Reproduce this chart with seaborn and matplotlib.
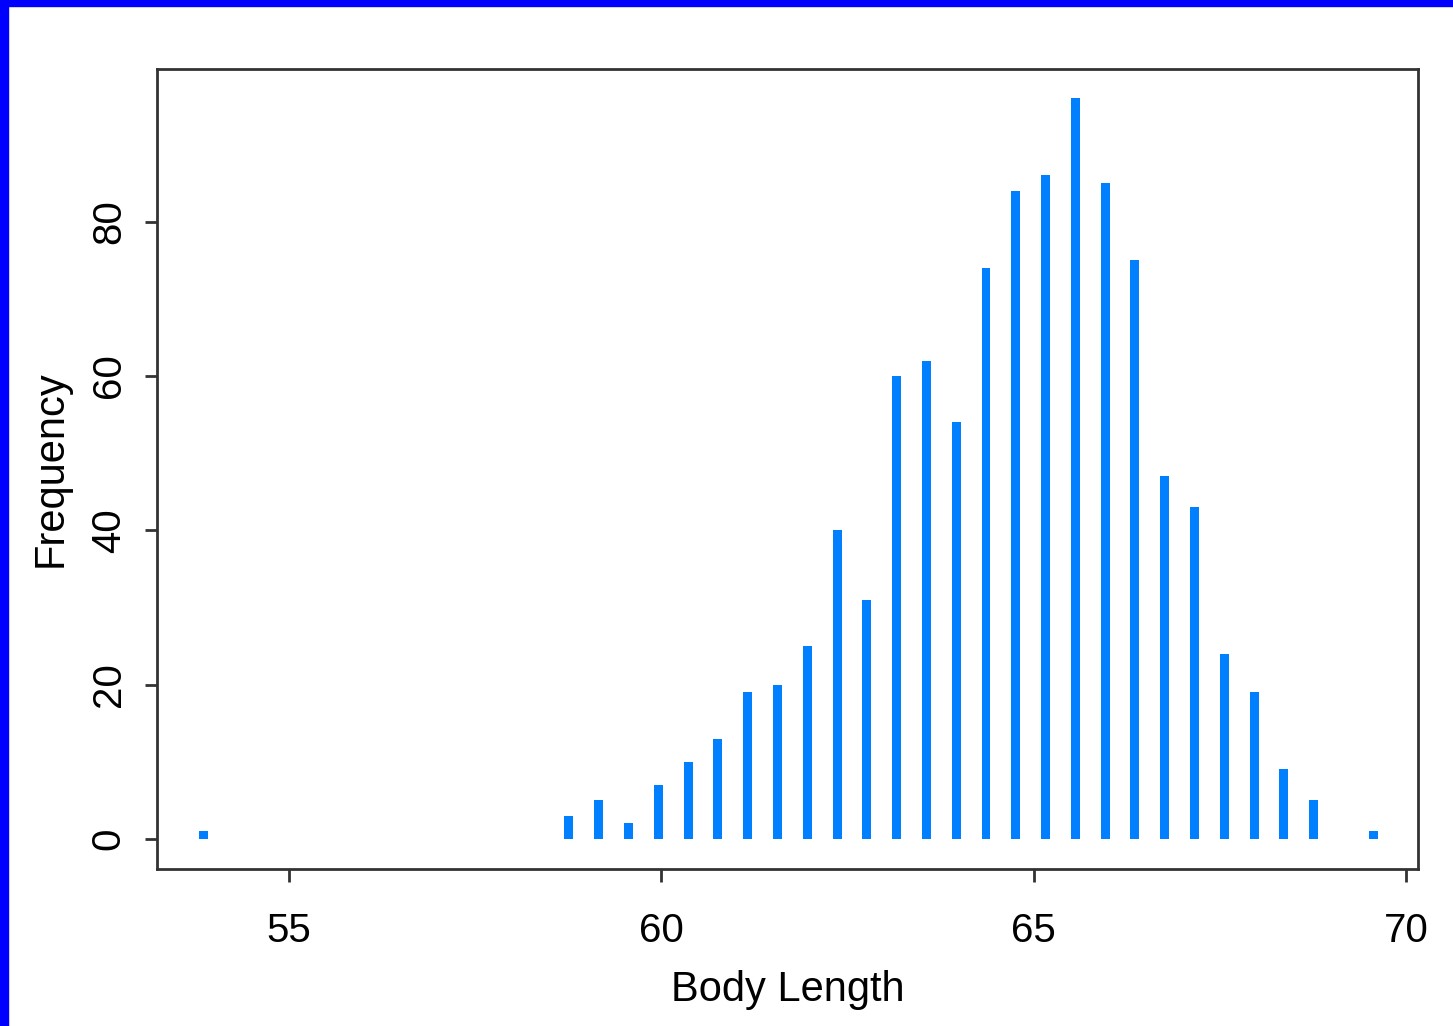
import matplotlib
matplotlib.use("Agg")
import matplotlib.pyplot as plt
import seaborn as sns
import pandas as pd

# frequency of body length values
body_length = [53.86, 58.76, 59.16, 59.56, 59.96, 60.36, 60.76, 61.16, 61.56, 61.96,
               62.36, 62.76, 63.16, 63.56, 63.96, 64.36, 64.76, 65.16, 65.56, 65.96,
               66.36, 66.76, 67.16, 67.56, 67.96, 68.36, 68.76, 69.56]
frequency = [1, 3, 5, 2, 7, 10, 13, 19, 20, 25,
             40, 31, 60, 62, 54, 74, 84, 86, 96, 85,
             75, 47, 43, 24, 19, 9, 5, 1]
x_ticks = [55, 60, 65, 70]
y_ticks = [0, 20, 40, 60, 80]

df = pd.DataFrame({"Body Length": body_length, "Frequency": frequency})

sns.set_style("ticks")
plt.rcParams['font.family'] = ['Liberation Sans', 'DejaVu Sans']

fig = plt.figure(figsize=(14.53, 10.26), dpi=100)
fig.patch.set_facecolor("white")
ax = fig.add_axes([157/1453, 1 - 869/1026, (1418-157)/1453, (869-69)/1026])

sns.barplot(data=df, x="Body Length", y="Frequency", native_scale=True,
            width=0.30, color="#0080FF", saturation=1, errorbar=None,
            edgecolor="none", ax=ax)

ax.set_xlim(53.23, 70.16)
ax.set_ylim(-3.9, 99.8)
ax.set_xticks(x_ticks)
ax.set_xticklabels([str(t) for t in x_ticks])
ax.set_yticks(y_ticks)
ax.set_yticklabels([str(t) for t in y_ticks], rotation=90, va="center")

for s in ax.spines.values():
    s.set_visible(True)
    s.set_color("#333333")
    s.set_linewidth(2)
ax.tick_params(axis="both", colors="#333333", width=2, length=9,
               labelsize=29, labelcolor="black")
ax.tick_params(axis="x", pad=22)
ax.tick_params(axis="y", pad=12)
ax.set_xlabel("Body Length", fontsize=30, labelpad=14, color="black")
ax.set_ylabel("Frequency", fontsize=30, labelpad=14, color="black")

# blue frame at the top and left edges
fig.add_artist(plt.Rectangle((0, 1 - 6/1026), 1, 6/1026, transform=fig.transFigure,
                             color="#0000FF", zorder=10))
fig.add_artist(plt.Rectangle((0, 0), 8/1453, 1, transform=fig.transFigure,
                             color="#0000FF", zorder=10))

fig.savefig("out.png", dpi=100)
